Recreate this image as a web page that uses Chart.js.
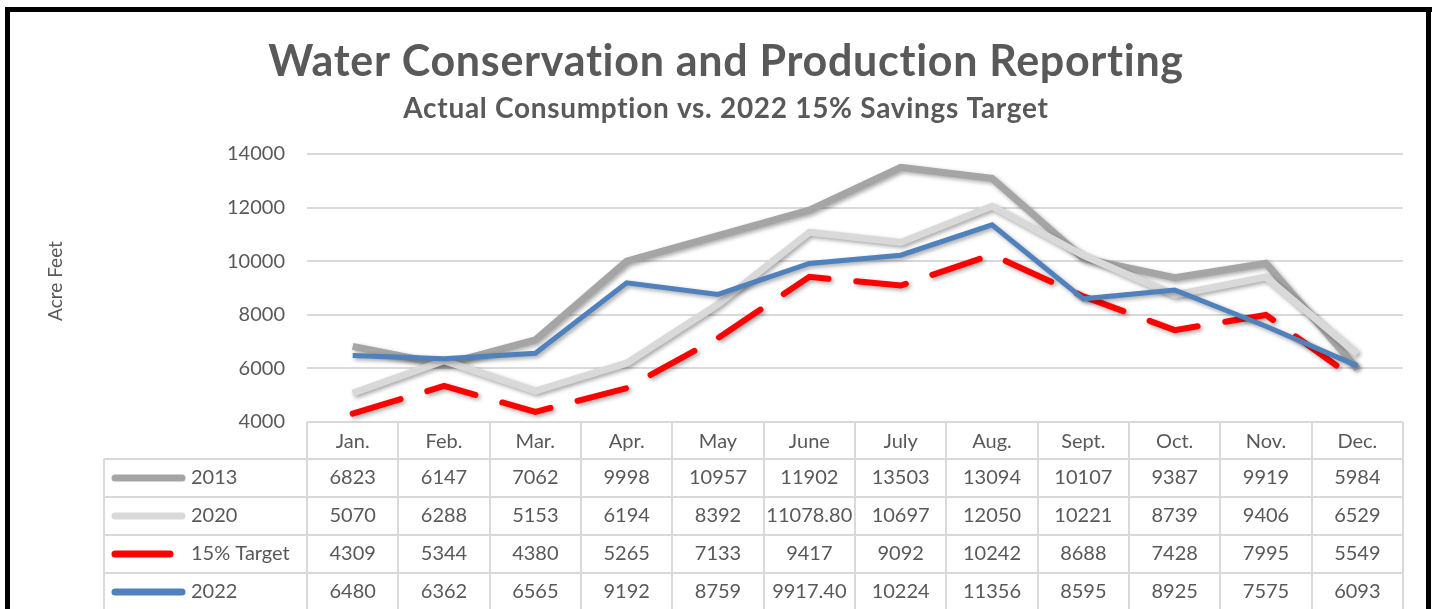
<!DOCTYPE html>
<html>
<head>
<meta charset="utf-8">
<script src="https://cdn.jsdelivr.net/npm/chart.js@4.4.1/dist/chart.umd.min.js"></script>
<style>
  html, body { margin: 0; padding: 0; background: #fff; }
  #wrap { width: 1437px; height: 609px; }
</style>
</head>
<body>
<div id="wrap"><canvas id="chart" width="1437" height="609"></canvas></div>
<script>
const months = ["Jan.", "Feb.", "Mar.", "Apr.", "May", "June", "July", "Aug.", "Sept.", "Oct.", "Nov.", "Dec."];
const use2013 = [6823, 6147, 7062, 9998, 10957, 11902, 13503, 13094, 10107, 9387, 9919, 5984];
const use2020 = [5070, 6288, 5153, 6194, 8392, 11078.80, 10697, 12050, 10221, 8739, 9406, 6529];
const target15 = [4309, 5344, 4380, 5265, 7133, 9417, 9092, 10242, 8688, 7428, 7995, 5549];
const use2022 = [6480, 6362, 6565, 9192, 8759, 9917.40, 10224, 11356, 8595, 8925, 7575, 6093];

const textGray = "#595959";
const gridGray = "#d9d9d9";
const font = "Lato";

function fmt(v) {
  return Number.isInteger(v) ? String(v) : v.toFixed(2);
}

// title, frame, the data table under the axis, and line shadows
const tablePlugin = {
  id: "tablePlugin",
  beforeDraw(chart) {
    const ctx = chart.ctx;
    ctx.save();
    ctx.fillStyle = "#fff";
    ctx.fillRect(0, 0, chart.width, chart.height);
    ctx.restore();
  },
  beforeDatasetDraw(chart) {
    const ctx = chart.ctx;
    ctx.save();
    ctx.shadowColor = "rgba(0,0,0,0.35)";
    ctx.shadowBlur = 4;
    ctx.shadowOffsetX = 2;
    ctx.shadowOffsetY = 2;
  },
  afterDatasetDraw(chart) {
    chart.ctx.restore();
  },
  afterDraw(chart) {
    const ctx = chart.ctx;
    const x = chart.scales.x;
    const area = chart.chartArea;
    const colW = (x.right - x.left) / months.length;
    const headTop = area.bottom;
    const headBottom = headTop + 37;
    const rowH = 38;
    const tableLeft = 104;
    const rows = chart.data.datasets;

    ctx.save();
    // titles (letter spacing also stops the ti ligature)
    ctx.fillStyle = textGray;
    ctx.textAlign = "center";
    ctx.textBaseline = "alphabetic";
    ctx.letterSpacing = "0.7px";
    ctx.font = "bold 43px " + font;
    ctx.fillText("Water Conservation and Production Reporting", 726, 76);
    ctx.font = "bold 28px " + font;
    ctx.fillText("Actual Consumption vs. 2022 15% Savings Target", 726, 118);
    ctx.letterSpacing = "0px";

    // axis title
    ctx.save();
    ctx.translate(56, 281);
    ctx.rotate(-Math.PI / 2);
    ctx.textBaseline = "middle";
    ctx.font = "19px " + font;
    ctx.fillText("Acre Feet", 0, 0);
    ctx.restore();

    // table grid
    ctx.strokeStyle = gridGray;
    ctx.lineWidth = 2;
    ctx.beginPath();
    for (let i = 0; i <= months.length; i++) {
      const cx = Math.round(x.left + i * colW);
      ctx.moveTo(cx, headTop);
      ctx.lineTo(cx, chart.height + 2);
    }
    ctx.moveTo(tableLeft, headBottom);
    ctx.lineTo(tableLeft, chart.height + 2);
    for (let r = 0; r < rows.length; r++) {
      const y = Math.round(headBottom + r * rowH);
      ctx.moveTo(tableLeft, y);
      ctx.lineTo(x.right, y);
    }
    ctx.stroke();

    // rows: legend key + values
    ctx.font = "20px " + font;
    ctx.textBaseline = "middle";
    rows.forEach((ds, r) => {
      const cy = headBottom + r * rowH + rowH / 2;
      ctx.strokeStyle = ds.borderColor;
      ctx.lineWidth = 7;
      ctx.lineCap = "round";
      ctx.setLineDash([]);
      ctx.beginPath();
      ctx.moveTo(115, cy);
      ctx.lineTo(ds.borderDash ? 170 : 182, cy);
      ctx.stroke();
      ctx.fillStyle = textGray;
      ctx.textAlign = "left";
      ctx.fillText(ds.label, 191, cy);
      ctx.textAlign = "center";
      ds.data.forEach((v, i) => {
        ctx.fillText(fmt(v), x.getPixelForValue(i), cy);
      });
    });

    // black frame
    ctx.fillStyle = "#000";
    ctx.fillRect(5, 7, 1427, 5);
    ctx.fillRect(5, 7, 5, chart.height);
    ctx.fillRect(1426, 7, 5, chart.height);
    ctx.restore();
  }
};

new Chart(document.getElementById("chart"), {
  type: "line",
  data: {
    labels: months,
    datasets: [
      { label: "2013", data: use2013, borderColor: "#a5a5a5", borderWidth: 7, order: 4 },
      { label: "2020", data: use2020, borderColor: "#d9d9d9", borderWidth: 7, order: 3 },
      { label: "15% Target", data: target15, borderColor: "#ff0000", borderWidth: 6,
        borderDash: [50, 28], borderCapStyle: "round", order: 2 },
      { label: "2022", data: use2022, borderColor: "#4f81bd", borderWidth: 5, order: 1 }
    ]
  },
  options: {
    responsive: false,
    animation: false,
    devicePixelRatio: 1,
    layout: { padding: { left: 207, right: 34, top: 154, bottom: 150 } },
    elements: { point: { radius: 0 }, line: { tension: 0 } },
    plugins: {
      legend: { display: false },
      tooltip: { enabled: false }
    },
    scales: {
      x: {
        offset: true,
        grid: { display: false },
        border: { display: false },
        ticks: { color: textGray, font: { family: font, size: 20 }, padding: 0, maxRotation: 0 },
        afterFit(s) { s.height = 37; }
      },
      y: {
        min: 4000,
        max: 14000,
        grid: { color: gridGray, lineWidth: 2, drawTicks: false },
        border: { display: false },
        ticks: {
          stepSize: 2000, color: textGray, font: { family: font, size: 20 }, padding: 22,
          callback: (v) => String(v)
        },
        afterFit(s) { s.width = 100; }
      }
    }
  },
  plugins: [tablePlugin]
});
</script>
</body>
</html>
